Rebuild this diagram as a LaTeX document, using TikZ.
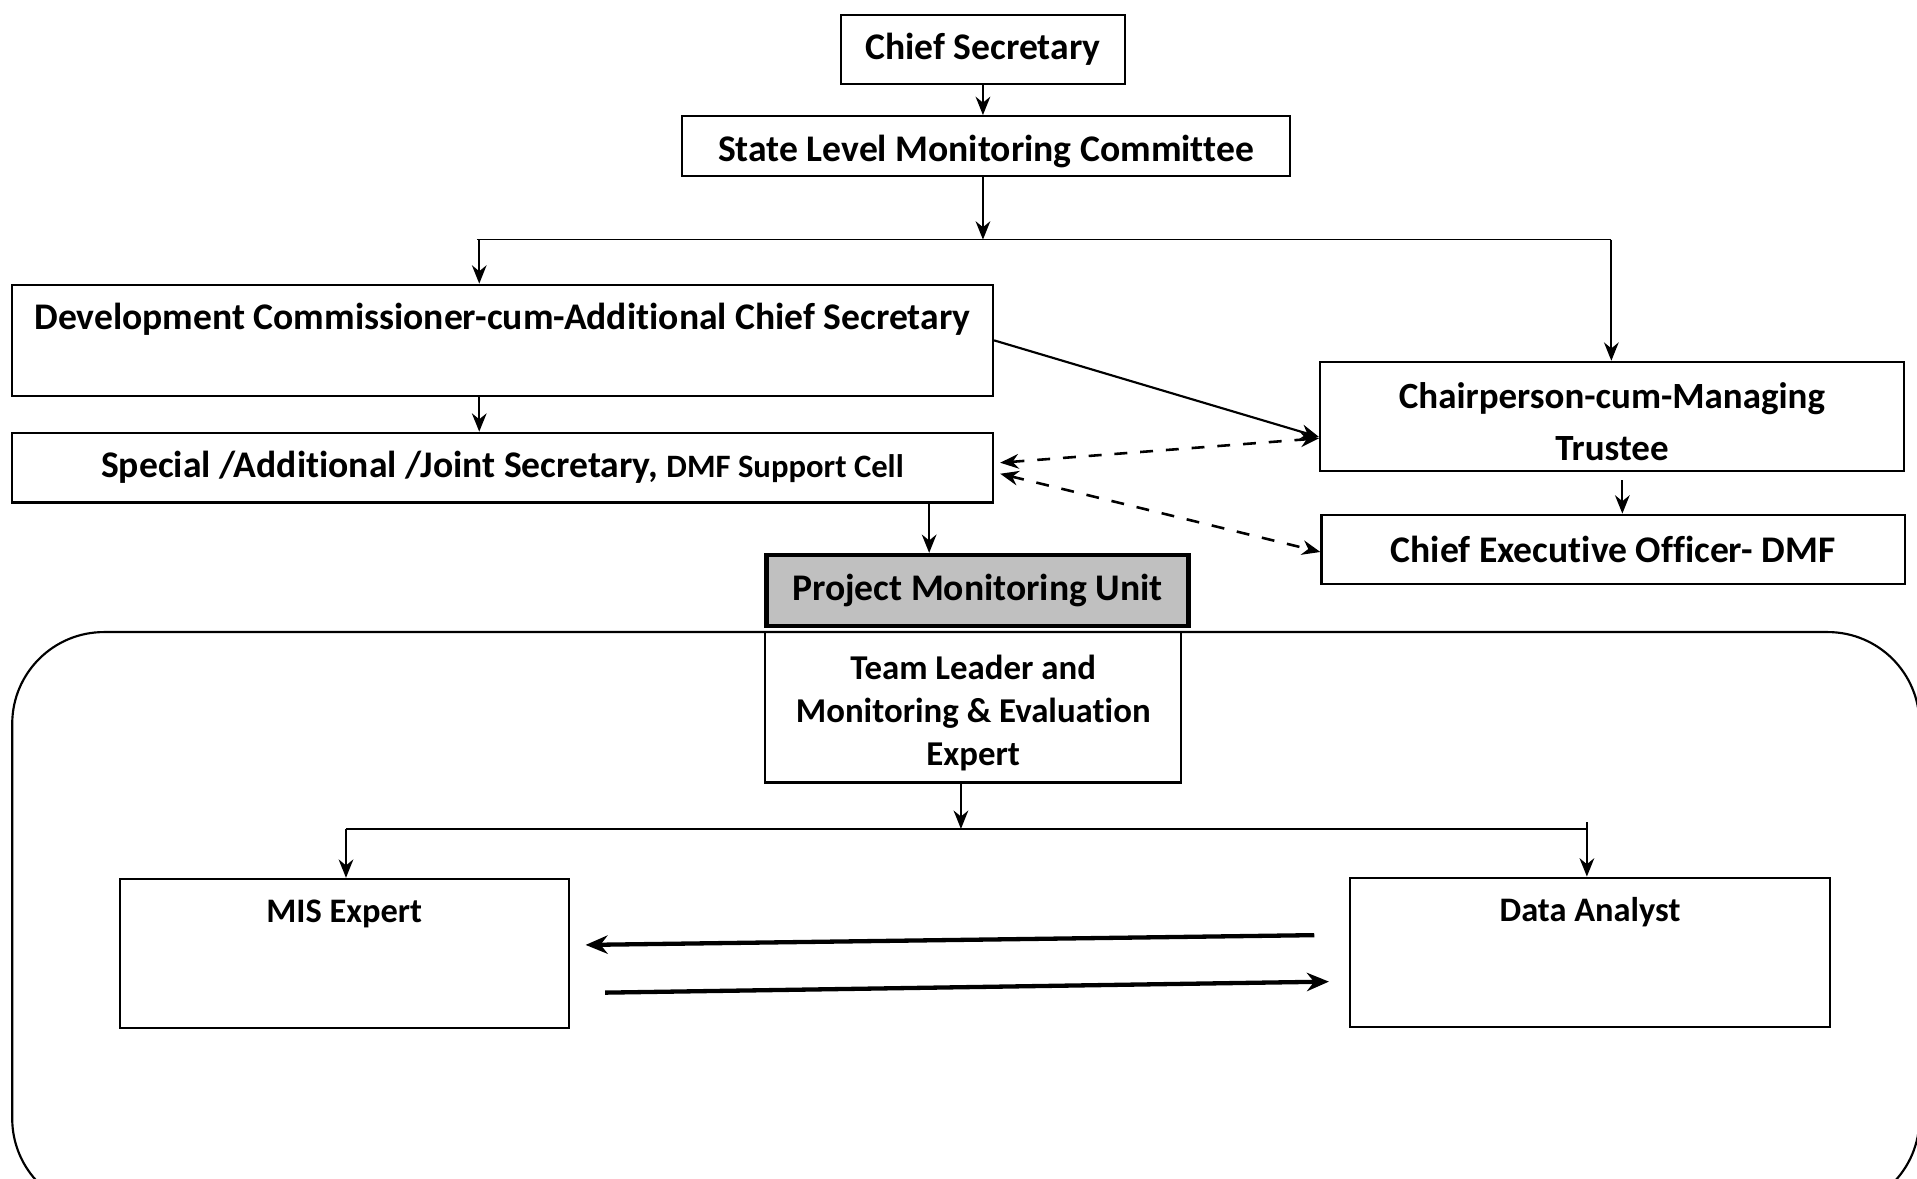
\documentclass[tikz,border=0pt]{standalone}
\usepackage{fontspec}
\setmainfont[Ligatures={NoCommon,NoContextual},Contextuals=NoAlternate]{Carlito}
\usepackage{tikz}
\usetikzlibrary{arrows.meta}
\usetikzlibrary{positioning}

\begin{document}
\begin{tikzpicture}[x=0.01cm, y=-0.01cm, >={Stealth[length=1.5mm,width=1.2mm]}]
	          \clip (0,0) rectangle (1568,964);
	          % frame of the unit
	          \draw[line width=0.5pt, rounded corners=0.75cm] (10,517) rectangle (1570,990);
	          \begin{scope}[every node/.style={draw,rectangle,line width=0.5pt,inner sep=0pt,align=center,font=\bfseries\fontsize{8.75}{11}\selectfont}]
	            \node[minimum width=2.32cm, minimum height=0.57cm] (cs) at (804,40.5) {Chief Secretary};
	            \node[minimum width=4.97cm, minimum height=0.49cm, text height=0.37cm, text depth=0.12cm] (slmc) at (806.5,119.5) {State Level Monitoring Committee};
	            \node[anchor=north, minimum width=8.02cm, text height=0.37cm, text depth=0.54cm] (dc) at (411,232) {Development Commissioner-cum-Addit\kern0pt ional Chief Secretary};
	            \node[minimum width=8.02cm, minimum height=0.57cm] (spl) at (411,382.5) {Special /Addit\kern0pt ional /Joint Secretary, {\fontsize{7.6}{9}\selectfont DMF Support Cell}};
	            \node[minimum width=4.77cm, minimum height=0.89cm, font=\bfseries\fontsize{8.6}{12}\selectfont] (cmt) at (1318.5,340.5) {\rule{0pt}{0.3cm}Chairperson-cum-Managing\\Trustee};
	            \node[minimum width=4.77cm, minimum height=0.57cm] (ceo) at (1319.5,449.5) {Chief Execut\kern0pt ive Officer- DMF};
	            \node[minimum width=3.45cm, minimum height=0.58cm, fill={rgb,255:red,192;green,192;blue,192}, line width=1pt] (pmu) at (799.5,483) {Project Monitoring Unit};
	            \node[minimum width=3.40cm, minimum height=1.23cm, font=\bfseries\fontsize{8.1}{10}\selectfont] (tl) at (796,578.5) {\rule{0pt}{0.3cm}Team Leader and\\Monitoring \& Evaluat\kern0pt ion\\Expert};
	            \node[anchor=north, minimum width=3.67cm, text height=0.36cm, text depth=0.86cm, font=\bfseries\fontsize{8}{10}\selectfont] (mis) at (281.5,718) {MIS Expert};
	            \node[anchor=north, minimum width=3.93cm, text height=0.36cm, text depth=0.86cm, font=\bfseries\fontsize{8}{10}\selectfont] (da) at (1300.5,717) {Data Analyst};
	          \end{scope}
	          \coordinate (top) at (804,196);
	          \coordinate (left) at (392,196);
	          \coordinate (right) at (1318,196);
	          \coordinate (pmutap) at (760,0);
	          \coordinate (ceotap) at (1327,0);
	          \coordinate (tltap) at (786,640);
	          \coordinate (bot) at (786,678);
	          \coordinate (misup) at (283,678);
	          \coordinate (daup) at (1298,678);
	          \draw (390,196) -- (right);
	          \draw (283,678) -- (daup) -- ++(0,-6);
	          \begin{scope}[every edge/.style={draw=black,line width=0.5pt,->}]
	            \path (cs.south) edge (cs.south |- slmc.north);
	            \path (slmc.south -| top) edge (top);
	            \path (left) edge (left |- dc.north);
	            \path (right) edge (right |- cmt.north);
	            \path (dc.east) edge ([yshift=-0.17cm]cmt.west);
	            \path (dc.south -| left) edge (spl.north -| left);
	            \path ([yshift=-0.07cm]cmt.south -| ceotap) edge (ceo.north -| ceotap);
	            \path (spl.south -| pmutap) edge (pmu.north -| pmutap);
	            \path (tl.south -| tltap) edge (bot);
	            \path (misup) edge (mis.north -| misup);
	            \path (daup) edge (da.north -| daup);
	          \end{scope}
	          \begin{scope}[every edge/.style={draw=black,line width=0.6pt,dashed,<->}]
	            \path ([xshift=0.05cm,yshift=0.04cm]spl.east) edge ([yshift=-0.18cm]cmt.west);
	            \path ([xshift=0.05cm,yshift=-0.05cm]spl.east) edge ([yshift=-0.02cm]ceo.west);
	          \end{scope}
	          \begin{scope}[every edge/.style={draw=black,line width=1pt,-{Stealth[length=1.8mm,width=1.5mm]}}]
	            \path ([xshift=-0.28cm,yshift=0.14cm]da.west) edge ([xshift=0.13cm,yshift=0.07cm]mis.east);
	            \path ([xshift=0.29cm,yshift=-0.32cm]mis.east) edge ([xshift=-0.16cm,yshift=-0.24cm]da.west);
	          \end{scope}
	        \end{tikzpicture}
\end{document}
